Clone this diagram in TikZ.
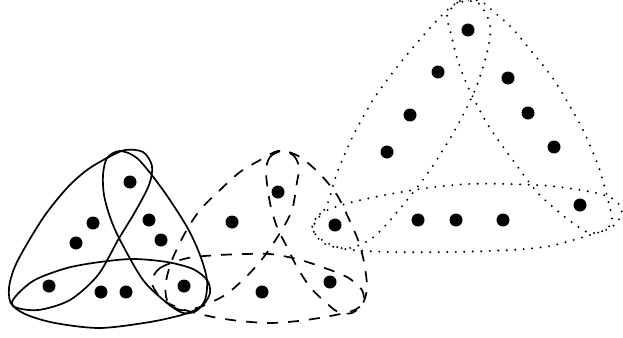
\documentclass[tikz,border=0pt]{standalone}
\begin{document}
\begin{tikzpicture}[x=1pt,y=-1pt,
  dot/.style={circle,fill=black,inner sep=0pt,minimum size=13pt},
  solidloop/.style={line width=1.7pt},
  dashloop/.style={line width=1.7pt,dash pattern=on 11pt off 10pt},
  dotloop/.style={line width=2.2pt,line cap=round,dash pattern=on 0pt off 8.5pt}]
\useasboundingbox (0,0) rectangle (623,337);

% solid hyperedges
\draw[solidloop] plot[smooth cycle] coordinates {(107,158) (125,150) (143,152) (152,166) (149,185) (135,212) (118,240) (98,275) (70,300) (38,310) (13,306) (9,288) (17,262) (43,218) (67,188) (87,170)};
\draw[solidloop] plot[smooth cycle] coordinates {(12,302) (33,281) (67,268) (100,262) (133,259) (167,262) (193,269) (207,280) (210,293) (202,306) (185,314) (150,322) (100,328) (55,323) (25,314)};
\draw[solidloop] plot[smooth cycle] coordinates {(103,175) (107,158) (120,151) (138,159) (163,190) (187,227) (200,255) (207,280) (205,300) (196,311) (183,313) (167,303) (143,280) (120,240) (110,217) (104,195)};

% dashed hyperedges
\draw[dashloop] plot[smooth cycle] coordinates {(278,151) (293,155) (299,167) (297,182) (292,210) (280,233) (263,258) (245,278) (225,295) (200,307) (180,310) (167,300) (166,282) (172,260) (185,233) (200,210) (220,190) (240,172) (262,159)};
\draw[dashloop] plot[smooth cycle] coordinates {(152,283) (160,268) (188,258) (220,255) (247,254) (270,254) (297,259) (322,267) (347,277) (362,290) (363,303) (352,311) (325,317) (298,321) (270,323) (240,321) (213,317) (185,310) (163,300)};
\draw[dashloop] plot[smooth cycle] coordinates {(266,172) (270,157) (283,151) (300,157) (320,174) (337,195) (348,217) (358,240) (364,262) (367,287) (363,303) (352,313) (338,312) (323,300) (310,287) (297,267) (287,247) (277,227) (270,203)};

% dotted hyperedges
\draw[dotloop] plot[smooth cycle] coordinates {(455,4) (430,28) (397,67) (373,100) (353,136) (337,173) (327,205) (313,228) (325,244) (350,248) (375,236) (403,205) (430,170) (455,130) (475,90) (487,53) (490,25) (478,3)};
\draw[dotloop] plot[smooth cycle] coordinates {(447,15) (460,1) (480,1) (495,13) (512,28) (532,52) (552,77) (568,103) (583,130) (598,165) (608,200) (612,220) (605,230) (590,233) (577,226) (560,213) (537,192) (512,159) (488,125) (468,87) (457,58) (450,30)};
\draw[dotloop] plot[smooth cycle] coordinates {(312,228) (320,214) (345,204) (385,195) (427,188) (467,184) (508,184) (550,186) (592,192) (615,200) (622,213) (612,227) (590,235) (550,246) (510,250) (450,252) (390,252) (345,249) (322,240)};

% vertices
\node[dot] (s1) at (130,182) {};
\node[dot] (s2) at (93,223) {};
\node[dot] (s3) at (76,243) {};
\node[dot] (s4) at (49,286) {};
\node[dot] (s5) at (149,220) {};
\node[dot] (s6) at (161,240) {};
\node[dot] (s7) at (101,292) {};
\node[dot] (s8) at (126,292) {};
\node[dot] (s9) at (184,286) {};
\node[dot] (d1) at (278,192) {};
\node[dot] (d2) at (232,222) {};
\node[dot] (d3) at (335,225) {};
\node[dot] (d4) at (262,292) {};
\node[dot] (d5) at (330,282) {};
\node[dot] (p1) at (468,30) {};
\node[dot] (p2) at (438,72) {};
\node[dot] (p3) at (410,115) {};
\node[dot] (p4) at (387,152) {};
\node[dot] (p5) at (508,78) {};
\node[dot] (p6) at (528,113) {};
\node[dot] (p7) at (554,147) {};
\node[dot] (p8) at (580,205) {};
\node[dot] (p9) at (418,220) {};
\node[dot] (p10) at (456,220) {};
\node[dot] (p11) at (503,220) {};
\end{tikzpicture}
\end{document}
